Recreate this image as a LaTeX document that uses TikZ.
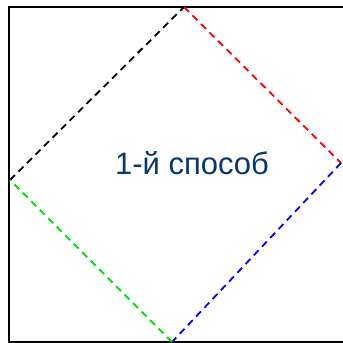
\documentclass[tikz,border=0pt]{standalone}
\usepackage{fontspec}
\setmainfont{Liberation Sans}
\definecolor{txtblue}{RGB}{10,55,105}
\definecolor{lgreen}{RGB}{0,230,0}
\begin{document}
\begin{tikzpicture}[x=1pt,y=1pt,
  edge/.style={line width=1.8pt, dash pattern=on 7pt off 5pt},
  frame/.style={line width=2pt, black}]
\useasboundingbox (0,0) rectangle (343,343);
\draw[frame] (360,1) -- (9,1) -- (9,336) -- (360,336);
\coordinate (T) at (184,336);
\coordinate (R) at (341,180);
\coordinate (B) at (172,1);
\coordinate (L) at (10,163);
\draw[edge, black] (L) -- (T);
\draw[edge, red] (T) -- (R);
\draw[edge, blue] (R) -- (B);
\draw[edge, lgreen] (B) -- (L);
\node[text=txtblue, font=\fontsize{31}{36}\selectfont] (lbl) at (192,180) {1-й способ};
\end{tikzpicture}
\end{document}
